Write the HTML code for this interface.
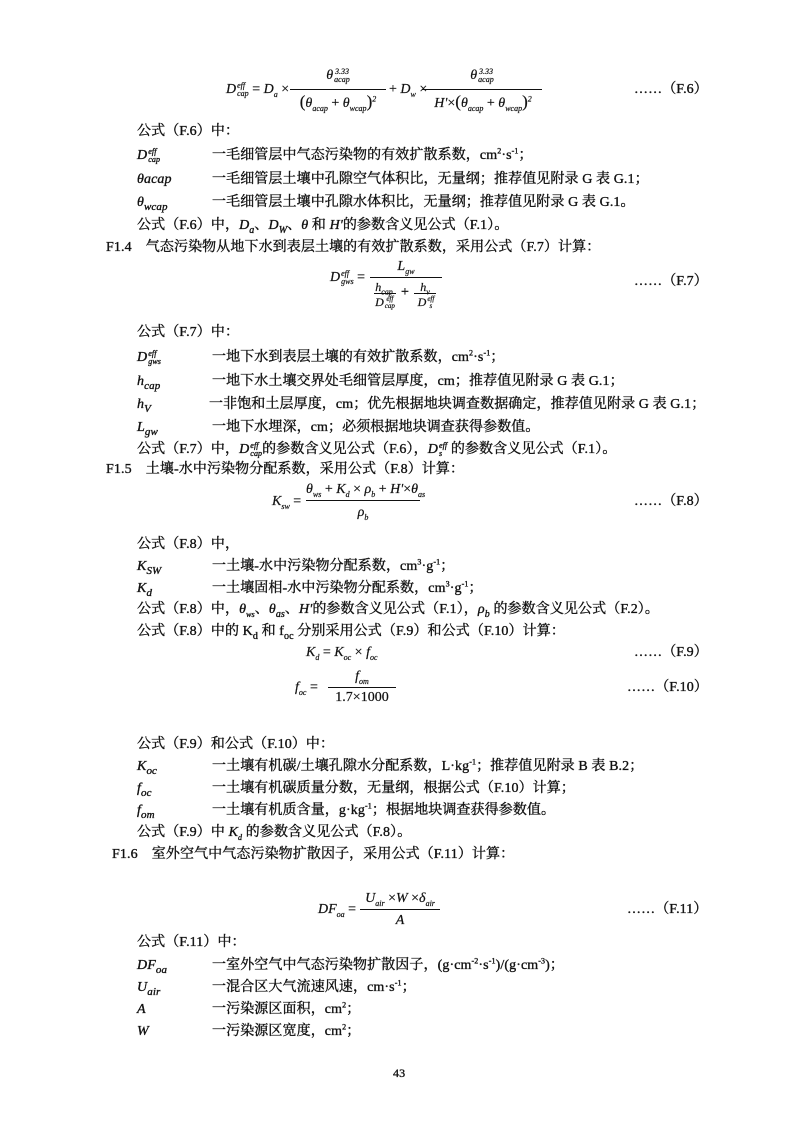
<!DOCTYPE html>
<html><head><meta charset="utf-8">
<style>
html,body{margin:0;padding:0;background:#fff;}
body{width:800px;height:1131px;position:relative;overflow:hidden;font-family:"Liberation Serif","Noto Serif CJK SC",serif;color:#111;}
.t{position:absolute;white-space:nowrap;font-size:14px;line-height:16px;letter-spacing:0.1px;-webkit-text-stroke:0.35px #111;}
.i{font-style:italic;}
.m{position:absolute;white-space:nowrap;font-size:14px;line-height:16px;font-style:italic;-webkit-text-stroke:0.2px #111;}
sub,sup{font-size:8px;line-height:0;}
.ss{display:inline-block;vertical-align:middle;font-size:8px;line-height:8px;margin-left:1px;}
.ss>span{display:block;}
.bar{position:absolute;height:1px;background:#111;}
.c{position:absolute;white-space:nowrap;font-size:14px;line-height:16px;text-align:center;font-style:italic;-webkit-text-stroke:0.2px #111;}
</style></head><body>

<!-- F.6 -->
<div class="m" style="left:226px;top:82px">D<span class="ss"><span>eff</span><span>cap</span></span><span style="font-style:normal"> = </span>D<sub>a</sub><span style="font-style:normal"> ×</span></div>
<div class="c" style="left:290px;width:96px;top:68px">θ<span class="ss"><span>3.33</span><span>acap</span></span></div>
<div class="bar" style="left:290px;width:96px;top:89px"></div>
<div class="c" style="left:290px;width:96px;top:94px"><span style="font-style:normal;font-size:17px">(</span>θ<sub>acap</sub> <span style="font-style:normal">+</span> θ<sub>wcap</sub><span style="font-style:normal;font-size:17px">)</span><sup>2</sup></div>
<div class="m" style="left:389px;top:82px"><span style="font-style:normal">+ </span>D<sub>w</sub><span style="font-style:normal"> ×</span></div>
<div class="c" style="left:422px;width:120px;top:68px">θ<span class="ss"><span>3.33</span><span>acap</span></span></div>
<div class="bar" style="left:422px;width:120px;top:89px"></div>
<div class="c" style="left:422px;width:122px;top:94px">H'<span style="font-style:normal">×</span><span style="font-style:normal;font-size:17px">(</span>θ<sub>acap</sub> <span style="font-style:normal">+</span> θ<sub>wcap</sub><span style="font-style:normal;font-size:17px">)</span><sup>2</sup></div>
<div class="t" style="left:634px;top:82px">……（F.6）</div>

<div class="t" style="left:137px;top:124px">公式（F.6）中：</div>
<div class="t i" style="left:137px;top:148px">D<span class="ss"><span>eff</span><span>cap</span></span></div>
<div class="t" style="left:212px;top:148px">一毛细管层中气态污染物的有效扩散系数，cm<sup>2</sup>·s<sup>-1</sup>；</div>
<div class="t i" style="left:137px;top:172px">θacap</div>
<div class="t" style="left:212px;top:172px">一毛细管层土壤中孔隙空气体积比，无量纲；推荐值见附录 G 表 G.1；</div>
<div class="t i" style="left:137px;top:195px">θ<sub style="font-size:11px">wcap</sub></div>
<div class="t" style="left:212px;top:195px">一毛细管层土壤中孔隙水体积比，无量纲；推荐值见附录 G 表 G.1。</div>
<div class="t" style="left:137px;top:218px">公式（F.6）中，<i>D<sub style="font-size:10px">a</sub></i>、<i>D<sub style="font-size:10px">W</sub></i>、<i>θ</i> 和 <i>H'</i>的参数含义见公式（F.1）。</div>
<div class="t" style="left:106px;top:240px">F1.4　气态污染物从地下水到表层土壤的有效扩散系数，采用公式（F.7）计算：</div>

<!-- F.7 -->
<div class="m" style="left:330px;top:270px">D<span class="ss"><span>eff</span><span>gws</span></span><span style="font-style:normal"> =</span></div>
<div class="c" style="left:370px;width:72px;top:259px">L<sub>gw</sub></div>
<div class="bar" style="left:370px;width:72px;top:277px"></div>
<div class="c" style="left:372px;width:24px;top:279px;font-size:12px">h<sub>cap</sub></div>
<div class="bar" style="left:374px;width:22px;top:293px"></div>
<div class="c" style="left:372px;width:26px;top:294px;font-size:12px">D<span class="ss" style="font-size:7px;line-height:7px"><span>eff</span><span>cap</span></span></div>
<div class="t" style="left:401px;top:285px">+</div>
<div class="c" style="left:413px;width:24px;top:279px;font-size:12px">h<sub>v</sub></div>
<div class="bar" style="left:414px;width:22px;top:293px"></div>
<div class="c" style="left:413px;width:26px;top:294px;font-size:12px">D<span class="ss" style="font-size:7px;line-height:7px"><span>eff</span><span>s</span></span></div>
<div class="t" style="left:634px;top:274px">……（F.7）</div>

<div class="t" style="left:137px;top:325px">公式（F.7）中：</div>
<div class="t i" style="left:137px;top:350px">D<span class="ss"><span>eff</span><span>gws</span></span></div>
<div class="t" style="left:212px;top:350px">一地下水到表层土壤的有效扩散系数，cm<sup>2</sup>·s<sup>-1</sup>；</div>
<div class="t i" style="left:137px;top:374px">h<sub style="font-size:11px">cap</sub></div>
<div class="t" style="left:212px;top:374px">一地下水土壤交界处毛细管层厚度，cm；推荐值见附录 G 表 G.1；</div>
<div class="t i" style="left:137px;top:397px">h<sub style="font-size:11px">V</sub></div>
<div class="t" style="left:209px;top:397px">一非饱和土层厚度，cm；优先根据地块调查数据确定，推荐值见附录 G 表 G.1；</div>
<div class="t i" style="left:137px;top:420px">L<sub style="font-size:11px">gw</sub></div>
<div class="t" style="left:212px;top:420px">一地下水埋深，cm；必须根据地块调查获得参数值。</div>
<div class="t" style="left:137px;top:442px">公式（F.7）中，<i>D<span class="ss"><span>eff</span><span>cap</span></span></i>的参数含义见公式（F.6），<i>D<span class="ss"><span>eff</span><span>s</span></span></i>&nbsp;的参数含义见公式（F.1）。</div>
<div class="t" style="left:106px;top:462px">F1.5　土壤-水中污染物分配系数，采用公式（F.8）计算：</div>

<!-- F.8 -->
<div class="m" style="left:272px;top:494px">K<sub>sw</sub><span style="font-style:normal"> =</span></div>
<div class="c" style="left:306px;width:114px;top:482px">θ<sub>ws</sub> <span style="font-style:normal">+</span> K<sub>d</sub> <span style="font-style:normal">×</span> ρ<sub>b</sub> <span style="font-style:normal">+</span> H'<span style="font-style:normal">×</span>θ<sub>as</sub></div>
<div class="bar" style="left:306px;width:114px;top:500px"></div>
<div class="c" style="left:306px;width:114px;top:505px">ρ<sub>b</sub></div>
<div class="t" style="left:634px;top:494px">……（F.8）</div>

<div class="t" style="left:137px;top:537px">公式（F.8）中，</div>
<div class="t i" style="left:137px;top:559px">K<sub style="font-size:11px">SW</sub></div>
<div class="t" style="left:212px;top:559px">一土壤-水中污染物分配系数，cm<sup>3</sup>·g<sup>-1</sup>；</div>
<div class="t i" style="left:137px;top:581px">K<sub style="font-size:11px">d</sub></div>
<div class="t" style="left:212px;top:581px">一土壤固相-水中污染物分配系数，cm<sup>3</sup>·g<sup>-1</sup>；</div>
<div class="t" style="left:137px;top:602px">公式（F.8）中，<i>θ<sub>ws</sub></i>、<i>θ<sub style="font-size:10px">as</sub></i>、<i>H'</i>的参数含义见公式（F.1），<i>ρ<sub style="font-size:10px">b</sub></i> 的参数含义见公式（F.2）。</div>
<div class="t" style="left:137px;top:624px">公式（F.8）中的 K<sub style="font-size:10px">d</sub> 和 f<sub style="font-size:10px">oc</sub> 分别采用公式（F.9）和公式（F.10）计算：</div>

<div class="m" style="left:306px;top:645px">K<sub>d</sub><span style="font-style:normal"> = </span>K<sub>oc</sub><span style="font-style:normal"> × </span>f<sub>oc</sub></div>
<div class="t" style="left:634px;top:645px">……（F.9）</div>

<div class="m" style="left:295px;top:680px">f<sub>oc</sub><span style="font-style:normal"> =</span></div>
<div class="c" style="left:328px;width:68px;top:669px">f<sub>om</sub></div>
<div class="bar" style="left:328px;width:68px;top:687px"></div>
<div class="c" style="left:328px;width:68px;top:690px;font-style:normal">1.7×1000</div>
<div class="t" style="left:627px;top:680px">……（F.10）</div>

<div class="t" style="left:137px;top:737px">公式（F.9）和公式（F.10）中：</div>
<div class="t i" style="left:137px;top:759px">K<sub style="font-size:11px">oc</sub></div>
<div class="t" style="left:212px;top:759px">一土壤有机碳/土壤孔隙水分配系数，L·kg<sup>-1</sup>；推荐值见附录 B 表 B.2；</div>
<div class="t i" style="left:137px;top:781px">f<sub style="font-size:11px">oc</sub></div>
<div class="t" style="left:212px;top:781px">一土壤有机碳质量分数，无量纲，根据公式（F.10）计算；</div>
<div class="t i" style="left:137px;top:803px">f<sub style="font-size:11px">om</sub></div>
<div class="t" style="left:212px;top:803px">一土壤有机质含量，g·kg<sup>-1</sup>；根据地块调查获得参数值。</div>
<div class="t" style="left:137px;top:825px">公式（F.9）中 <i>K<sub>d</sub></i> 的参数含义见公式（F.8）。</div>
<div class="t" style="left:112px;top:847px">F1.6　室外空气中气态污染物扩散因子，采用公式（F.11）计算：</div>

<!-- F.11 -->
<div class="m" style="left:318px;top:902px">DF<sub>oa</sub><span style="font-style:normal"> =</span></div>
<div class="c" style="left:360px;width:80px;top:891px">U<sub>air</sub><span style="font-style:normal"> ×</span>W<span style="font-style:normal"> ×</span>δ<sub>air</sub></div>
<div class="bar" style="left:360px;width:80px;top:909px"></div>
<div class="c" style="left:360px;width:80px;top:913px">A</div>
<div class="t" style="left:627px;top:902px">……（F.11）</div>

<div class="t" style="left:137px;top:935px">公式（F.11）中：</div>
<div class="t i" style="left:137px;top:958px">DF<sub style="font-size:11px">oa</sub></div>
<div class="t" style="left:212px;top:958px">一室外空气中气态污染物扩散因子，(g·cm<sup>-2</sup>·s<sup>-1</sup>)/(g·cm<sup>-3</sup>)；</div>
<div class="t i" style="left:137px;top:980px">U<sub style="font-size:11px">air</sub></div>
<div class="t" style="left:212px;top:980px">一混合区大气流速风速，cm·s<sup>-1</sup>；</div>
<div class="t i" style="left:137px;top:1002px">A</div>
<div class="t" style="left:212px;top:1002px">一污染源区面积，cm<sup>2</sup>；</div>
<div class="t i" style="left:137px;top:1024px">W</div>
<div class="t" style="left:212px;top:1024px">一污染源区宽度，cm<sup>2</sup>；</div>

<div class="t" style="left:393px;top:1065px;font-size:12px">43</div>
</body></html>
